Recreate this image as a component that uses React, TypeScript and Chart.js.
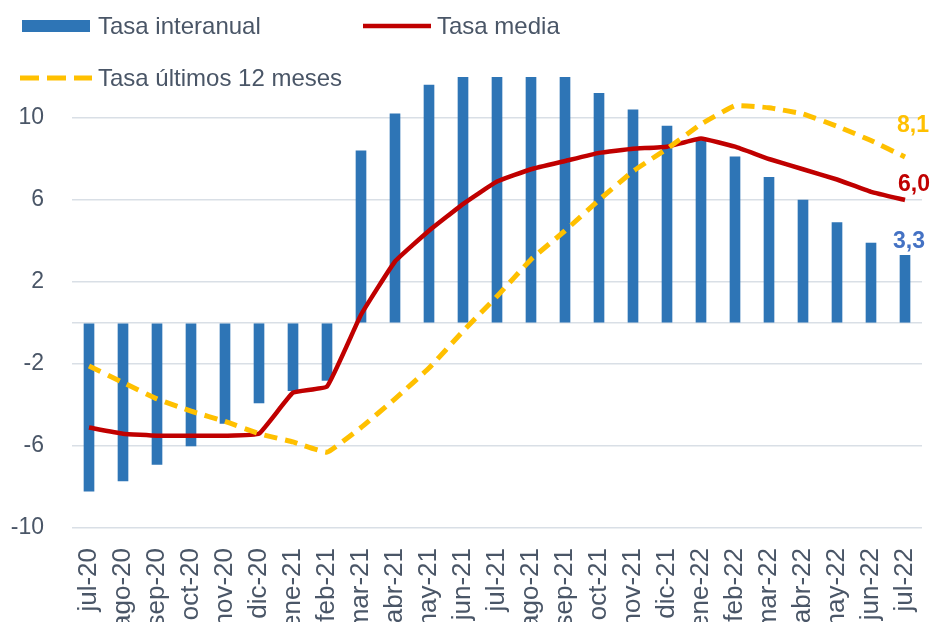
import React, { useEffect, useRef } from 'react';
import { Chart, registerables } from 'chart.js';

Chart.register(...registerables);

const categories = ['jul-20', 'ago-20', 'sep-20', 'oct-20', 'nov-20', 'dic-20', 'ene-21', 'feb-21', 'mar-21', 'abr-21', 'may-21', 'jun-21', 'jul-21', 'ago-21', 'sep-21', 'oct-21', 'nov-21', 'dic-21', 'ene-22', 'feb-22', 'mar-22', 'abr-22', 'may-22', 'jun-22', 'jul-22'];

const tasaInteranual = [-8.2, -7.7, -6.9, -6.0, -4.9, -3.9, -3.3, -2.8, 8.4, 10.2, 11.6, 12.3, 12.5, 12.4, 12.2, 11.2, 10.4, 9.6, 8.9, 8.1, 7.1, 6.0, 4.9, 3.9, 3.3];

const tasaMedia = [-5.1, -5.4, -5.5, -5.5, -5.5, -5.4, -3.4, -3.1, 0.4, 3.0, 4.5, 5.8, 6.9, 7.5, 7.9, 8.3, 8.5, 8.6, 9.0, 8.6, 8.0, 7.5, 7.0, 6.4, 6.0];

const tasaUltimos12 = [-2.1, -2.9, -3.7, -4.3, -4.8, -5.4, -5.8, -6.3, -5.1, -3.7, -2.2, -0.4, 1.3, 3.1, 4.5, 6.0, 7.4, 8.5, 9.7, 10.6, 10.5, 10.2, 9.6, 8.9, 8.1];

const yTickValues = [-10, -6, -2, 0, 2, 6, 10];
const seriesNames = ['Tasa interanual', 'Tasa media', 'Tasa últimos 12 meses'];

const FONT = '"Liberation Sans", Arial, sans-serif';
const TEXT = '#4A5667';
const BLUE = '#2E75B6';
const RED = '#C00000';
const YELLOW = '#FFC000';
const LABEL_BLUE = '#4472C4';
const GRID = '#D9DFE6';

const fmt = (v: number) => v.toFixed(1).replace('.', ',');

const legendPlugin = {
  id: 'customLegend',
  afterDraw(chart: any) {
    const ctx = chart.ctx;
    const ds = chart.data.datasets;
    ctx.save();
    ctx.fillStyle = BLUE;
    ctx.fillRect(22, 20, 68, 12);
    ctx.strokeStyle = RED;
    ctx.lineWidth = 4.5;
    ctx.beginPath();
    ctx.moveTo(363, 26);
    ctx.lineTo(431, 26);
    ctx.stroke();
    ctx.strokeStyle = YELLOW;
    ctx.lineWidth = 5;
    ctx.setLineDash([19, 8]);
    ctx.beginPath();
    ctx.moveTo(20, 78);
    ctx.lineTo(92, 78);
    ctx.stroke();
    ctx.setLineDash([]);
    ctx.font = `24px ${FONT}`;
    ctx.fillStyle = TEXT;
    ctx.textBaseline = 'middle';
    ctx.textAlign = 'left';
    ctx.fillText(ds[0].label, 98, 27);
    ctx.fillText(ds[1].label, 437, 27);
    ctx.fillText(ds[2].label, 98, 79);
    ctx.restore();
  },
};

const endLabelPlugin = {
  id: 'endLabels',
  afterDatasetsDraw(chart: any) {
    const ctx = chart.ctx;
    const specs = [
      { ds: 2, dx: 8, dy: -31, color: YELLOW },
      { ds: 1, dx: 9, dy: -15, color: RED },
      { ds: 0, dx: 4, dy: -14, color: LABEL_BLUE },
    ];
    ctx.save();
    ctx.font = `bold 23px ${FONT}`;
    ctx.textAlign = 'center';
    ctx.textBaseline = 'middle';
    specs.forEach((s) => {
      const meta = chart.getDatasetMeta(s.ds);
      const data = chart.data.datasets[s.ds].data as number[];
      const last = data.length - 1;
      const el = meta.data[last];
      if (!el) return;
      ctx.fillStyle = s.color;
      ctx.fillText(fmt(data[last]), el.x + s.dx, el.y + s.dy);
    });
    ctx.restore();
  },
};

export default function App() {
  const canvasRef = useRef<HTMLCanvasElement | null>(null);

  useEffect(() => {
    document.body.style.margin = '0';
    const canvas = canvasRef.current;
    if (!canvas) return;
    const chart = new Chart(canvas, {
      type: 'bar',
      data: {
        labels: categories,
        datasets: [
          {
            type: 'bar',
            label: seriesNames[0],
            data: tasaInteranual,
            backgroundColor: BLUE,
            barThickness: 10,
            order: 3,
            clip: 0,
          } as any,
          {
            type: 'line',
            label: seriesNames[1],
            data: tasaMedia,
            borderColor: RED,
            backgroundColor: RED,
            borderWidth: 4.5,
            pointRadius: 0,
            tension: 0.1,
            order: 2,
          },
          {
            type: 'line',
            label: seriesNames[2],
            data: tasaUltimos12,
            borderColor: YELLOW,
            backgroundColor: YELLOW,
            borderWidth: 5,
            borderDash: [13, 8],
            pointRadius: 0,
            tension: 0.1,
            order: 1,
          },
        ],
      },
      options: {
        responsive: false,
        animation: false,
        layout: { padding: { top: 77, right: 10, left: 0, bottom: 0 } },
        plugins: {
          legend: { display: false },
          tooltip: { enabled: false },
        },
        scales: {
          x: {
            grid: { display: false },
            border: { display: false },
            ticks: {
              autoSkip: false,
              minRotation: 90,
              maxRotation: 90,
              padding: 12,
              color: TEXT,
              font: { family: FONT, size: 26 },
            },
            afterFit: (scale: any) => {
              scale.height = 94;
              scale.paddingLeft = 0;
              scale.paddingRight = 0;
            },
          },
          y: {
            min: -10,
            max: 12,
            grid: { color: GRID, lineWidth: 1.5, drawTicks: false },
            border: { display: false },
            ticks: {
              padding: 28,
              color: TEXT,
              font: { family: FONT, size: 23 },
              callback: (v: any) => (Number(v) === 0 ? '' : String(v)),
            },
            afterBuildTicks: (scale: any) => {
              scale.ticks = yTickValues.map((v) => ({ value: v }));
            },
            afterFit: (scale: any) => {
              scale.width = 72;
              scale.paddingTop = 0;
              scale.paddingBottom = 0;
            },
          },
        },
      },
      plugins: [legendPlugin, endLabelPlugin],
    });
    return () => chart.destroy();
  }, []);

  return (
    <div style={{ width: 932, height: 622 }}>
      <canvas ref={canvasRef} width={932} height={622} style={{ display: 'block' }} />
    </div>
  );
}
